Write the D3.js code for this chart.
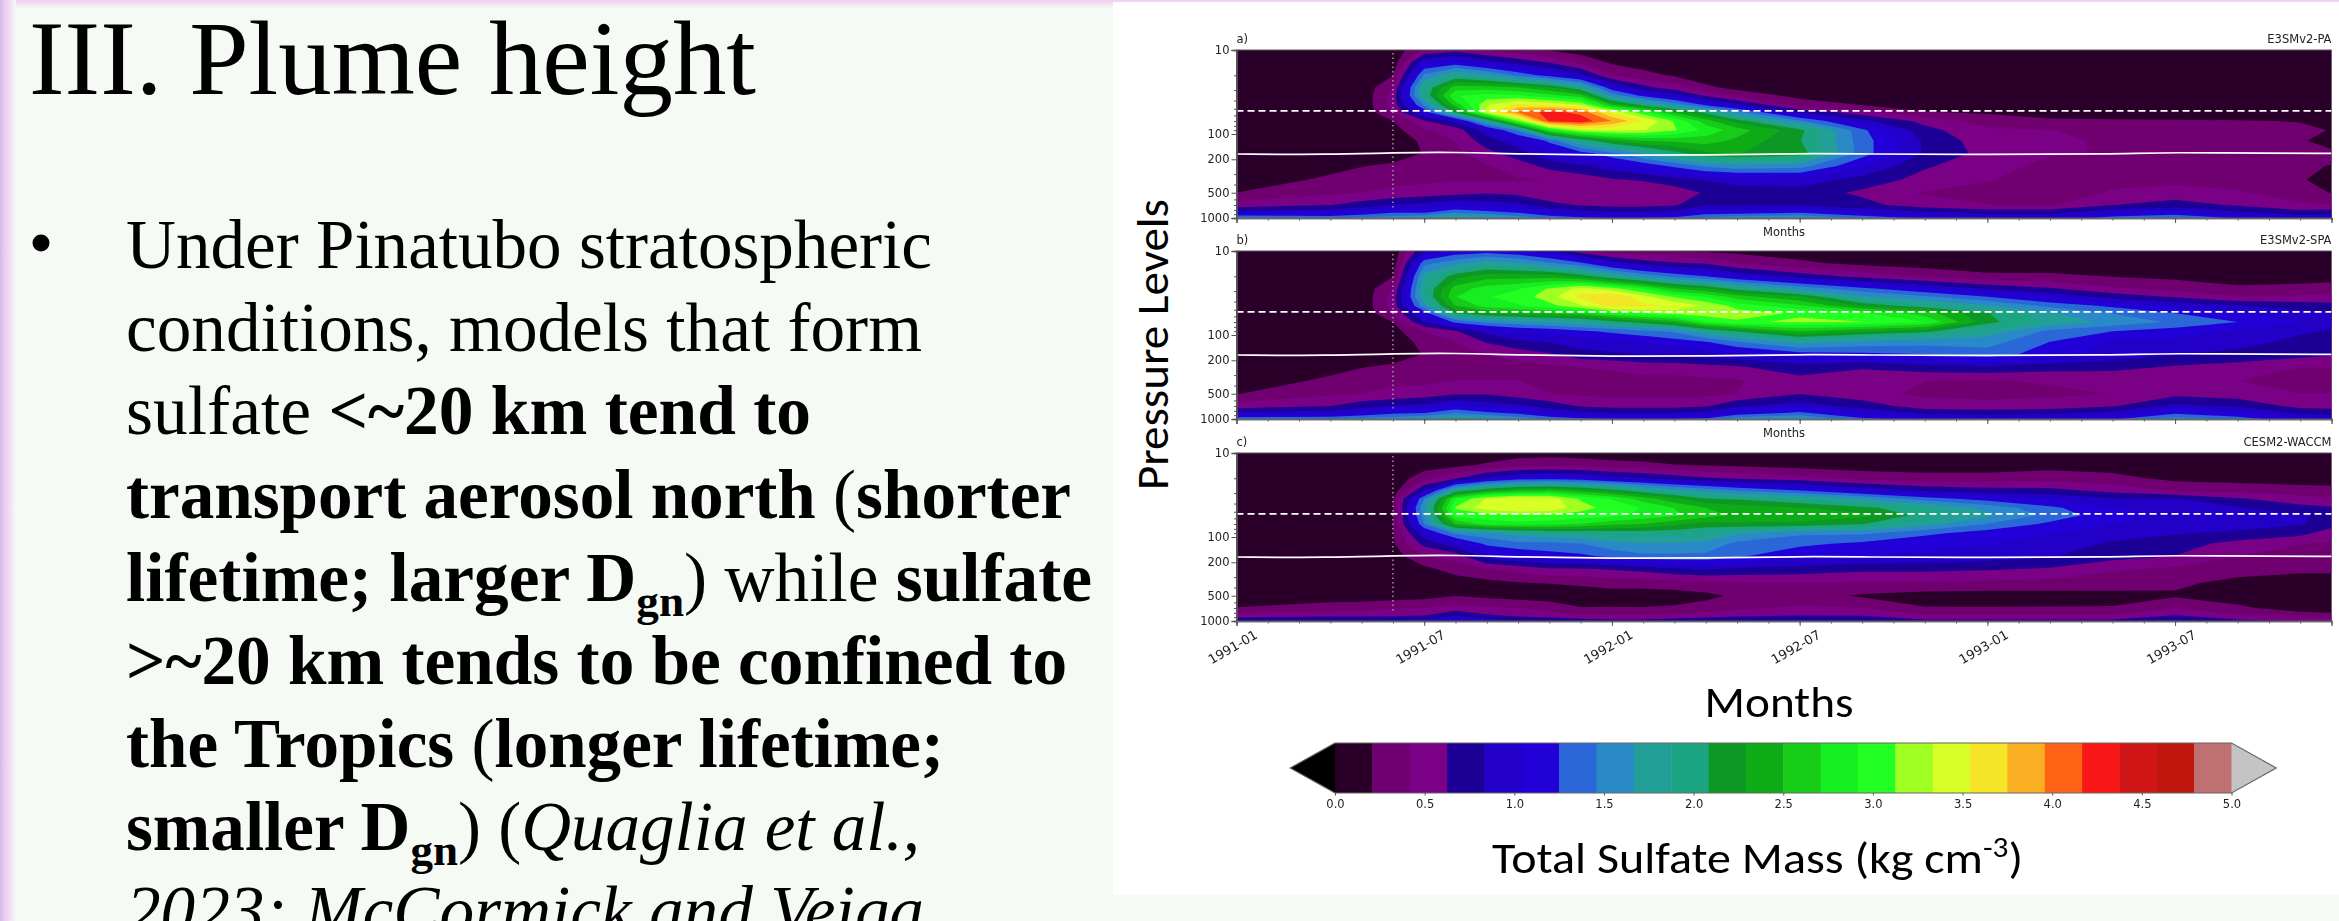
<!DOCTYPE html>
<html>
<head>
<meta charset="utf-8">
<title>III. Plume height</title>
<script src="https://cdn.jsdelivr.net/npm/d3@7"></script>
<style>
  html, body { margin: 0; padding: 0; background: #f6faf5; overflow: hidden; }
  svg { display: block; }
</style>
</head>
<body>
<svg width="2339" height="921"></svg>
<script>
// months since 1991-01 of each column in the panel tables
var monthCols = [0,3,4,5,6,7,8,9,10,11,12,13,14,15,16,18,20,22,24,26,28,30,32,34,35];
// pressure (hPa) of each value inside a column, top of the plot first
var levels = [10,14,20,28,35,45,55,70,90,120,170,240,350,500,700,850,1000];

// total sulfate mass, one row per month column
var panelA = [
  [.05,.05,.05,.05,.05,.05,.05,.05,.05,.05,.05,.05,.05,.21,.5,.9,1.5],
  [.05,.05,.05,.05,.05,.05,.05,.05,.05,.05,.05,.12,.26,.38,.62,.95,1.4],
  [.05,.05,.05,.05,.05,.05,.05,.05,.05,.05,.05,.2,.32,.42,.72,1.05,1.5],
  [.05,.08,.2,.42,.5,.5,.42,.21,.12,.08,.08,.25,.38,.45,.85,1.2,1.6],
  [.45,1,1.5,1.9,1.9,1.5,1.1,.6,.4,.25,.22,.3,.38,.5,.9,1.2,1.7],
  [.55,1.1,1.9,2.6,2.9,2.6,2.1,.9,.5,.42,.38,.35,.4,.55,1,1.4,1.9],
  [.42,.9,1.7,2.6,3,3.3,3.4,1.8,.95,.75,.55,.4,.4,.6,.95,1.3,1.8],
  [.3,.75,1.4,2.5,2.95,3.6,4,3.1,1.5,.95,.75,.5,.4,.55,.9,1.2,1.6],
  [.19,.6,1.15,2.3,2.8,3.5,4.25,4.2,2.8,1.3,1,.7,.42,.45,.7,1,1.4],
  [.1,.38,.9,1.9,2.6,3.3,4.1,4.3,3.3,1.9,1.15,.8,.5,.42,.6,.9,1.3],
  [.05,.17,.42,1.1,1.6,2.5,3.5,3.95,3.4,2.3,1.4,.95,.6,.42,.55,.85,1.2],
  [.05,.1,.28,.7,1.2,2,3,3.55,3.35,2.5,1.7,1.1,.65,.44,.55,.85,1.25],
  [.05,.05,.18,.5,.95,1.6,2.45,3.1,3.15,2.55,2,1.3,.75,.5,.6,.9,1.3],
  [.05,.05,.1,.25,.6,1.2,2,2.6,2.85,2.6,2.25,1.5,.85,.65,.8,1.1,1.5],
  [.05,.05,.05,.15,.35,.9,1.55,2.2,2.6,2.45,2.3,1.6,.9,.75,.8,1.1,1.6],
  [.05,.05,.05,.05,.15,.32,.8,1.5,2.15,2.1,2.2,1.55,.95,.75,.8,1.2,1.7],
  [.05,.05,.05,.05,.05,.2,.5,.9,1.3,1.35,1.35,1.05,.75,.58,.7,1,1.4],
  [.05,.05,.05,.05,.05,.1,.22,.55,.7,.8,.8,.65,.55,.4,.5,.85,1.2],
  [.05,.05,.05,.05,.05,.05,.18,.32,.45,.5,.55,.5,.43,.36,.42,.75,1.1],
  [.05,.05,.05,.05,.05,.05,.1,.25,.42,.44,.44,.36,.32,.3,.4,.75,1.05],
  [.05,.05,.05,.05,.05,.05,.08,.24,.38,.4,.4,.36,.36,.44,.62,.95,1.35],
  [.05,.05,.05,.05,.05,.05,.08,.23,.36,.36,.38,.34,.36,.5,.72,1.05,1.5],
  [.05,.05,.05,.05,.05,.05,.06,.22,.34,.36,.36,.32,.34,.44,.6,.85,1.2],
  [.05,.05,.05,.05,.05,.05,.05,.2,.25,.24,.26,.24,.24,.3,.45,.7,1],
  [.05,.05,.05,.05,.05,.05,.05,.2,.2,.1,.26,.2,.08,.2,.42,.75,1]
];

var panelB = [
  [.05,.05,.05,.05,.05,.05,.05,.05,.05,.05,.05,.05,.05,.2,.5,.9,1.4],
  [.05,.05,.05,.05,.05,.05,.05,.05,.05,.05,.05,.12,.26,.38,.62,.95,1.45],
  [.05,.05,.05,.05,.05,.05,.05,.05,.05,.05,.05,.2,.32,.42,.75,1.05,1.55],
  [.05,.08,.2,.42,.5,.5,.42,.21,.12,.08,.08,.25,.38,.46,.85,1.2,1.6],
  [.85,1.4,1.75,1.85,1.85,1.6,1.1,.85,.42,.28,.22,.3,.38,.5,.9,1.25,1.7],
  [1.1,1.6,2.2,2.6,2.7,2.5,2.1,1.3,.6,.42,.38,.35,.42,.6,1.05,1.45,1.9],
  [1.15,1.8,2.4,2.8,2.9,2.8,2.3,1.5,.9,.65,.42,.36,.42,.6,.95,1.3,1.8],
  [1.05,1.7,2.4,2.9,3,2.9,2.4,1.6,1.05,.8,.5,.36,.42,.5,.9,1.2,1.6],
  [.9,1.5,2.4,3.15,3.25,3.05,2.5,1.7,1.1,.85,.6,.38,.38,.42,.75,1,1.4],
  [.5,1.3,2.2,3.4,3.6,3.3,2.6,1.8,1.2,.95,.75,.42,.36,.38,.6,.9,1.3],
  [.32,.95,1.9,3.2,3.75,3.65,2.9,2,1.3,1,.8,.44,.35,.36,.55,.85,1.25],
  [.25,.75,1.6,2.9,3.4,3.6,3.1,2.2,1.4,1.05,.85,.5,.36,.36,.55,.85,1.25],
  [.2,.65,1.4,2.5,3.1,3.5,3.2,2.4,1.5,1.15,.9,.5,.36,.36,.55,.85,1.25],
  [.18,.6,1.25,2.3,2.9,3.3,3.25,2.9,1.85,1.25,.95,.55,.38,.36,.6,.9,1.3],
  [.15,.42,1,2,2.6,3.05,3.2,3.1,2.1,1.45,.98,.6,.4,.42,.8,1.1,1.6],
  [.1,.25,.75,1.6,2.3,2.75,3.1,3.15,2.5,1.75,1.15,.75,.55,.62,.95,1.3,1.75],
  [.05,.15,.55,1.3,1.7,2.25,2.95,3.13,2.3,1.6,1.2,.65,.5,.48,.75,1,1.3],
  [.05,.1,.38,1.05,1.5,1.95,2.6,2.92,2.15,1.55,1.25,.75,.42,.38,.5,.8,1.15],
  [.05,.1,.25,.8,1.25,1.7,2.1,2.15,1.8,1.55,1.35,.8,.4,.36,.48,.75,1.1],
  [.05,.08,.25,.65,1,1.4,1.7,1.82,1.4,1.25,1.15,.72,.44,.38,.5,.8,1.1],
  [.05,.05,.2,.45,.75,1.2,1.45,1.6,1.25,1,.95,.7,.44,.42,.6,.9,1.2],
  [.05,.05,.15,.35,.6,1,1.25,1.42,1.15,1,.85,.6,.44,.55,.9,1.2,1.6],
  [.05,.05,.1,.25,.42,.85,1.05,1.25,1,.95,.75,.55,.42,.5,.8,1.1,1.35],
  [.05,.05,.1,.28,.45,.75,.9,1.05,.88,.75,.7,.42,.34,.42,.55,.8,1.1],
  [.05,.05,.12,.3,.48,.7,.85,.95,.8,.7,.65,.42,.36,.42,.55,.75,1.05]
];

var panelC = [
  [.05,.05,.05,.05,.05,.05,.05,.05,.05,.05,.05,.05,.05,.05,.22,.5,.8],
  [.05,.05,.05,.05,.05,.05,.05,.05,.05,.05,.05,.05,.05,.1,.3,.55,.85],
  [.05,.05,.05,.05,.05,.05,.05,.05,.05,.05,.05,.05,.05,.1,.32,.55,.85],
  [.05,.05,.05,.08,.2,.2,.2,.2,.2,.18,.1,.05,.05,.1,.4,.55,.9],
  [.05,.1,.35,.85,1.45,1.65,1.6,1.45,1,.7,.4,.15,.05,.12,.42,.6,.95],
  [.05,.15,.6,1.9,2.9,3.15,3,2.5,1.5,.95,.5,.3,.1,.2,.5,.8,1.1],
  [.05,.25,.9,2.3,3.35,3.45,3.05,2.8,1.6,1.3,.95,.4,.15,.15,.45,.65,1],
  [.1,.35,1.1,2.5,3.5,3.55,3.1,2.85,1.75,1.4,1.05,.5,.2,.1,.42,.55,.85],
  [.12,.38,1.15,2.55,3.45,3.5,3.1,2.8,1.85,1.4,1.15,.6,.22,.08,.35,.5,.8],
  [.1,.35,1.1,2.4,3.1,3.2,3.05,2.7,1.9,1.45,1.2,.6,.25,.08,.22,.42,.75],
  [.08,.3,.95,2.2,2.9,3.05,3,2.55,1.95,1.6,1.3,.65,.3,.1,.22,.42,.7],
  [.05,.28,.85,1.95,2.6,2.9,2.85,2.5,1.95,1.65,1.4,.7,.32,.08,.22,.42,.7],
  [.05,.22,.75,1.75,2.35,2.7,2.75,2.35,1.95,1.65,1.4,.8,.35,.1,.24,.45,.75],
  [.05,.2,.65,1.6,2.1,2.5,2.6,2.2,1.9,1.6,1.4,.85,.38,.15,.3,.5,.8],
  [.05,.18,.6,1.45,2.05,2.4,2.45,2.25,1.7,1.4,1.28,.8,.4,.25,.38,.55,.85],
  [.05,.12,.5,1.25,1.9,2.3,2.4,2.25,1.5,1.3,1.1,.75,.42,.3,.45,.6,.9],
  [.05,.1,.35,1,1.65,2.15,2.35,2.1,1.5,1.2,1.05,.68,.4,.18,.42,.6,.85],
  [.05,.08,.3,.8,1.35,1.9,2,1.75,1.3,1.1,1,.68,.4,.12,.22,.42,.7],
  [.05,.08,.3,.72,1.15,1.6,1.7,1.45,1.15,1.05,.95,.65,.38,.1,.22,.42,.7],
  [.05,.12,.35,.7,1,1.3,1.4,1.2,1.05,.95,.85,.6,.35,.12,.22,.42,.7],
  [.05,.1,.28,.55,.85,1.05,1.1,1.05,.95,.8,.7,.45,.3,.15,.22,.42,.7],
  [.05,.05,.15,.4,.85,.95,1,.95,.85,.72,.62,.38,.25,.18,.42,.62,.9],
  [.05,.05,.12,.35,.65,.85,.98,.92,.8,.55,.42,.3,.15,.1,.25,.42,.7],
  [.05,.05,.1,.3,.5,.7,.85,.85,.7,.42,.35,.25,.12,.05,.1,.3,.6],
  [.05,.05,.1,.28,.45,.65,.8,.72,.5,.4,.35,.25,.12,.05,.12,.25,.62]
];

var panelNames = ["a)", "b)", "c)"];
var modelNames = ["E3SMv2-PA", "E3SMv2-SPA", "CESM2-WACCM"];
var panelTops = [50, 251, 453];
var panelHeight = 168;

// solid white line, hPa
var tropMonths = [0,3,5,7,9,12,15,18,20,24,28,30,33,35];
var tropPressure = [173,176,167,164,173,179,179,170,173,176,173,165,170,170];
var dashedPressure = 53;
var eruptionMonth = 5;

var majorPressure = [10,100,200,500,1000];
var minorPressure = [20,30,40,50,60,70,80,90,300,400,600,700,800,900];
var majorMonths = [0,6,12,18,24,30];
var monthLabels = ["1991-01","1991-07","1992-01","1992-07","1993-01","1993-07"];

var barTicks = [0,.5,1,1.5,2,2.5,3,3.5,4,4.5,5];
var bandColors = ["#2a002b","#6f006f","#7a0086","#1f0096","#2000c8","#2400d8","#2a68d8","#2a8ac8",
  "#22a098","#1ea583","#109828","#10ac18","#18cc18","#18ee20","#20ff20","#a0ff20","#d8ff28",
  "#f4e628","#fab020","#ff6418","#f81818","#d01814","#c01410","#c07070"];
var underColor = "#000000", overColor = "#c4c4c4";
var thresholds = d3.range(bandColors.length).map(function(i) { return i * 5 / bandColors.length; });

var titleText = "III. Plume height";
// each line: text runs and the right edge of the line in the slide
var slideLines = [
  { right: 932, runs: [{t:"Under Pinatubo stratospheric"}] },
  { right: 922, runs: [{t:"conditions, models that form"}] },
  { right: 811, runs: [{t:"sulfate "},{t:"<~20 km tend to",b:1}] },
  { right: 1071, runs: [{t:"transport aerosol north",b:1},{t:" ("},{t:"shorter",b:1}] },
  { right: 1092, runs: [{t:"lifetime; larger D",b:1},{t:"gn",b:1,sub:1},{t:") while "},{t:"sulfate",b:1}] },
  { right: 1067, runs: [{t:">~20 km tends to be confined to",b:1}] },
  { right: 944, runs: [{t:"the Tropics",b:1},{t:" ("},{t:"longer lifetime;",b:1}] },
  { right: 920, runs: [{t:"smaller D",b:1},{t:"gn",b:1,sub:1},{t:") ("},{t:"Quaglia et al.,",i:1}] },
  { right: 924, runs: [{t:"2023: McCormick and Veiga",i:1}] }
];

var svg = d3.select("svg"),
    width = +svg.attr("width"),
    height = +svg.attr("height");

var defs = svg.append("defs");

var leftGrad = defs.append("linearGradient").attr("id", "edgeLeft");
leftGrad.append("stop").attr("offset", "0%").attr("stop-color", "#c9bdf0");
leftGrad.append("stop").attr("offset", "25%").attr("stop-color", "#ecc8ee");
leftGrad.append("stop").attr("offset", "100%").attr("stop-color", "#f6faf5");
var topGrad = defs.append("linearGradient").attr("id", "edgeTop").attr("x2", 0).attr("y2", 1);
topGrad.append("stop").attr("offset", "0%").attr("stop-color", "#f0d0ee");
topGrad.append("stop").attr("offset", "100%").attr("stop-color", "#f6faf5");

defs.append("filter").attr("id", "soft")
    .attr("x", "-2%").attr("y", "-2%").attr("width", "104%").attr("height", "104%")
  .append("feGaussianBlur").attr("stdDeviation", 0.55);

// slide background
svg.append("rect").attr("width", width).attr("height", height).attr("fill", "#f6faf5");
svg.append("rect").attr("width", width).attr("height", 9).attr("fill", "url(#edgeTop)");
svg.append("rect").attr("width", 16).attr("height", height).attr("fill", "url(#edgeLeft)");
svg.append("rect").attr("x", 1113).attr("y", 2).attr("width", width - 1113).attr("height", 893).attr("fill", "#fff");

// slide text
var serif = "'Liberation Serif', serif";
svg.append("text").attr("x", 29).attr("y", 94)
    .attr("font-family", serif).attr("font-size", 105)
    .attr("textLength", 727).attr("lengthAdjust", "spacingAndGlyphs")
    .text(titleText);
svg.append("circle").attr("cx", 41).attr("cy", 243).attr("r", 8.5).attr("fill", "#000");

slideLines.forEach(function(line, i) {
  var txt = svg.append("text").attr("x", 126).attr("y", 268 + i * 83.2)
      .attr("font-family", serif).attr("font-size", 69)
      .attr("textLength", line.right - 126).attr("lengthAdjust", "spacingAndGlyphs");
  var wasSub = false;
  line.runs.forEach(function(r) {
    var s = txt.append("tspan").text(r.t)
        .attr("font-weight", r.b ? "bold" : null)
        .attr("font-style", r.i ? "italic" : null);
    if (r.sub) s.attr("font-size", 45).attr("dy", 15);
    else if (wasSub) s.attr("dy", -15);
    wasSub = !!r.sub;
  });
});

// figure part, slightly soft like the pasted picture
var fig = svg.append("g").attr("filter", "url(#soft)");

var x = d3.scaleLinear().domain([0, 35]).range([1236.5, 2331.5]);
var colIndex = d3.scaleLinear().domain(d3.range(monthCols.length)).range(monthCols);
var levIndex = d3.scaleLinear().domain(d3.range(levels.length)).range(levels.map(function(d) { return Math.log10(d); }));

var contours = d3.contours().size([monthCols.length, levels.length]).thresholds(thresholds);

function drawPanel(values, k) {
  var top = panelTops[k];
  var y = d3.scaleLog().domain([10, 1000]).range([top, top + panelHeight]);
  var g = fig.append("g").attr("class", "panel");

  defs.append("clipPath").attr("id", "clip" + k).append("rect")
      .attr("x", x(0)).attr("y", top).attr("width", x(35) - x(0)).attr("height", panelHeight);

  // contours give points in half shifted grid coordinates
  var proj = d3.geoTransform({
    point: function(px, py) {
      var i = Math.max(0, Math.min(monthCols.length - 1, px - 0.5));
      var j = Math.max(0, Math.min(levels.length - 1, py - 0.5));
      this.stream.point(x(colIndex(i)), y(Math.pow(10, levIndex(j))));
    }
  });
  var path = d3.geoPath(proj);

  var flat = [];
  levels.forEach(function(lev, j) {
    monthCols.forEach(function(m, i) { flat.push(values[i][j]); });
  });

  g.append("rect").attr("x", x(0)).attr("y", top).attr("width", x(35) - x(0)).attr("height", panelHeight)
      .attr("fill", bandColors[0]);
  g.append("g").attr("clip-path", "url(#clip" + k + ")")
    .selectAll("path")
    .data(contours(flat))
    .enter().append("path")
      .attr("d", path)
      .attr("fill", function(d, i) { return bandColors[i]; });

  var refs = g.append("g").attr("clip-path", "url(#clip" + k + ")");
  refs.append("line")
      .attr("x1", x(eruptionMonth)).attr("x2", x(eruptionMonth))
      .attr("y1", top + 3).attr("y2", top + panelHeight - 8)
      .attr("stroke", "#a8a0a8").attr("stroke-width", 1.4).attr("stroke-dasharray", "1.5,3");
  refs.append("line")
      .attr("x1", x(0)).attr("x2", x(35))
      .attr("y1", y(dashedPressure)).attr("y2", y(dashedPressure))
      .attr("stroke", "#fff").attr("stroke-width", 1.8).attr("stroke-dasharray", "7,4");
  var trop = d3.line()
      .x(function(d, i) { return x(tropMonths[i]); })
      .y(function(d) { return y(d); })
      .curve(d3.curveBasis);
  refs.append("path").attr("d", trop(tropPressure))
      .attr("fill", "none").attr("stroke", "#fff").attr("stroke-width", 1.7);

  // frame
  g.append("line").attr("x1", x(0)).attr("x2", x(35)).attr("y1", top).attr("y2", top)
      .attr("stroke", "#555").attr("stroke-width", 1.1);

  var yAxis = d3.axisLeft(y).tickValues(majorPressure).tickFormat(d3.format("d")).tickSize(5).tickPadding(2);
  var yMinor = d3.axisLeft(y).tickValues(minorPressure).tickFormat("").tickSize(2.5);
  var xAxis = d3.axisBottom(x).tickValues(majorMonths).tickSize(5).tickPadding(3)
      .tickFormat(function(d, i) { return k === 2 ? monthLabels[i] : ""; });
  var xMinor = d3.axisBottom(x).tickValues(d3.range(0, 36, 1)).tickFormat("").tickSize(2.5);

  [yMinor, yAxis].forEach(function(a) {
    g.append("g").attr("transform", "translate(" + x(0) + ",0)").call(a)
        .call(styleAxis).call(function(s) { s.select(".domain").attr("stroke", "#555"); });
  });
  [xMinor, xAxis].forEach(function(a) {
    g.append("g").attr("class", a === xAxis ? "xmajor" : "xminor")
        .attr("transform", "translate(0," + (top + panelHeight) + ")").call(a).call(styleAxis);
  });

  if (k === 2) {
    g.select(".xmajor").selectAll("text")
        .attr("font-size", 13)
        .attr("text-anchor", "middle").attr("dy", 0).attr("y", 0)
        .attr("transform", "translate(-2,30) rotate(-30)");
  } else {
    g.append("text").attr("x", x(17.5)).attr("y", top + panelHeight + 18)
        .attr("text-anchor", "middle").attr("font-size", 11.5)
        .attr("font-family", "'DejaVu Sans'").attr("fill", "#222").text("Months");
  }

  g.append("text").attr("x", x(0)).attr("y", top - 7).attr("font-size", 11.5)
      .attr("font-family", "'DejaVu Sans'").attr("fill", "#222").text(panelNames[k]);
  g.append("text").attr("x", x(35)).attr("y", top - 7).attr("font-size", 11.5).attr("text-anchor", "end")
      .attr("font-family", "'DejaVu Sans'").attr("fill", "#222").text(modelNames[k]);
}

function styleAxis(sel) {
  sel.attr("font-family", "'DejaVu Sans'").attr("font-size", 11.5);
  sel.selectAll("text").attr("fill", "#222");
  sel.selectAll("line").attr("stroke", "#555");
  sel.select(".domain").attr("stroke", "#666").attr("stroke-width", 1.4);
}

[panelA, panelB, panelC].forEach(drawPanel);

// colorbar
var bar = d3.scaleLinear().domain([0, 5]).range([1335, 2231.5]);
var barTop = 743, barBottom = 793;
var barG = fig.append("g");
barG.selectAll("rect").data(bandColors).enter().append("rect")
    .attr("x", function(d, i) { return bar(thresholds[i]); })
    .attr("y", barTop)
    .attr("width", bar(5 / bandColors.length) - bar(0) + 0.5)
    .attr("height", barBottom - barTop)
    .attr("fill", function(d) { return d; });
var tip = (bar(5) - bar(0)) * 0.05;
barG.append("path")
    .attr("d", d3.line()([[bar(0), barTop], [bar(0) - tip, (barTop + barBottom) / 2], [bar(0), barBottom]]) + "Z")
    .attr("fill", underColor);
barG.append("path")
    .attr("d", d3.line()([[bar(5), barTop], [bar(5) + tip, (barTop + barBottom) / 2], [bar(5), barBottom]]) + "Z")
    .attr("fill", overColor);
barG.append("path")
    .attr("d", d3.line()([[bar(0), barTop], [bar(0) - tip, (barTop + barBottom) / 2], [bar(0), barBottom],
      [bar(5), barBottom], [bar(5) + tip, (barTop + barBottom) / 2], [bar(5), barTop]]) + "Z")
    .attr("fill", "none").attr("stroke", "#666").attr("stroke-width", 1.2);
barG.append("g").attr("transform", "translate(0," + barBottom + ")")
    .call(d3.axisBottom(bar).tickValues(barTicks).tickFormat(d3.format(".1f")).tickSize(2.5).tickPadding(4))
    .call(styleAxis)
    .call(function(s) { s.select(".domain").remove(); });

// offset text of the colorbar, cropped away almost fully in the pasted picture
defs.append("clipPath").attr("id", "offsetClip").append("rect")
    .attr("x", 2190).attr("y", 814).attr("width", 50).attr("height", 3);
barG.append("g").attr("clip-path", "url(#offsetClip)")
  .append("text").attr("x", 2231).attr("y", 826).attr("text-anchor", "end")
    .attr("font-family", "'DejaVu Sans'").attr("font-size", 11.5).attr("fill", "#222")
    .text("1e-10");

// axis titles of the figure, added on the slide in a bigger font
var big = "Carlito, Lato, 'Open Sans', sans-serif";
svg.append("text")
    .attr("transform", "translate(1168,344.5) rotate(-90)")
    .attr("text-anchor", "middle").attr("font-family", big).attr("font-size", 46)
    .attr("textLength", 291).attr("lengthAdjust", "spacingAndGlyphs")
    .text("Pressure Levels");
svg.append("text").attr("x", 1779).attr("y", 717)
    .attr("text-anchor", "middle").attr("font-family", big).attr("font-size", 43)
    .attr("textLength", 149).attr("lengthAdjust", "spacingAndGlyphs")
    .text("Months");
var unitLabel = svg.append("text").attr("x", 1492).attr("y", 873)
    .attr("font-family", big).attr("font-size", 43)
    .attr("textLength", 531).attr("lengthAdjust", "spacingAndGlyphs");
unitLabel.append("tspan").text("Total Sulfate Mass (kg cm");
unitLabel.append("tspan").attr("font-size", 28).attr("dy", -16).text("-3");
unitLabel.append("tspan").attr("dy", 16).text(")");
</script>
</body>
</html>
